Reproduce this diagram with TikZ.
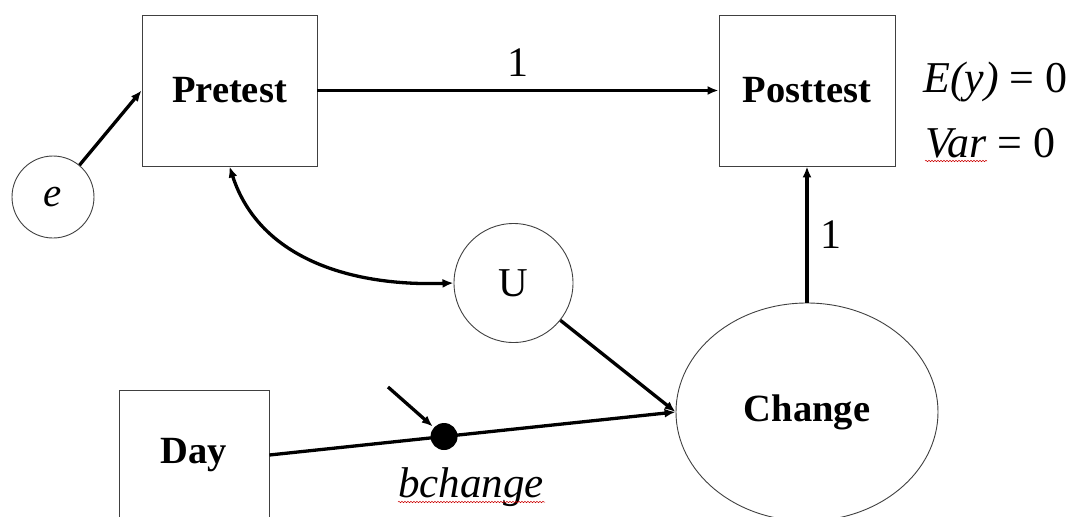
\documentclass[tikz,border=0pt]{standalone}
\usepackage{fontspec}
\setmainfont{Liberation Serif}
\usetikzlibrary{arrows.meta,shapes.geometric,decorations.pathmorphing}
\begin{document}
\begin{tikzpicture}[x=1pt,y=-1pt,
  boxnode/.style={draw=black!75,line width=0.9pt,rectangle,inner sep=0pt,font=\fontsize{38.5}{40}\selectfont\bfseries},
  circnode/.style={draw=black!75,line width=0.9pt,circle,inner sep=0pt},
  ellnode/.style={draw=black!75,line width=0.9pt,ellipse,inner sep=0pt,font=\fontsize{38.5}{40}\selectfont\bfseries},
  conn/.style={line width=3.3pt,-{Latex[length=11pt,width=9pt]}},
  biconn/.style={line width=3.3pt,{Latex[length=11pt,width=9pt]}-{Latex[length=11pt,width=9pt]}},
  lbl/.style={font=\fontsize{42}{44}\selectfont,inner sep=0pt},
  spell/.style={draw=red!80!black,line width=0.5pt,decorate,decoration={snake,amplitude=0.7pt,segment length=3pt}}
]
\useasboundingbox (0,0) rectangle (1072,517);
\node[boxnode,minimum width=175pt,minimum height=151pt] (pre) at (229.5,90.5) {Pretest};
\node[boxnode,minimum width=176pt,minimum height=151pt] (post) at (807,90.5) {Posttest};
\node[boxnode,minimum width=150pt,minimum height=130pt] (day) at (194,455) {Day};
\node[circnode,minimum size=82pt,font=\fontsize{41}{43}\selectfont\itshape] (e) at (53,197) {e};
\node[circnode,minimum size=119pt,font=\fontsize{41}{43}\selectfont] (u) at (513.5,283) {U};
\node[ellnode,minimum width=262pt,minimum height=218pt] (chg) at (807,412) {Change};

\draw[conn] (e) -- (pre.west);
\draw[conn] (pre.east) -- (post.west) node[lbl,midway,above=12pt] (one1) {1};
\draw[conn] (chg.north) -- (post.south) node[lbl,midway,right=12pt] (one2) {1};
\draw[biconn] (pre.south) to[out=-72,in=182] (u.west);
\draw[conn] (u) -- (chg.west);
\draw[conn] (day.east) -- (chg.west) node[pos=0.43,circle,fill=black,minimum size=27pt,inner sep=0pt] (dot) {};
\coordinate (dsrc) at (388,387);
\draw[conn] (dsrc) -- (dot);

\node[lbl,anchor=base west,font=\fontsize{43}{45}\selectfont\itshape] (bch) at (398,497) {bchange};
\node[lbl,anchor=base west,font=\fontsize{44}{46}\selectfont] (ey) at (923,92) {\textit{E(y)} = 0};
\node[lbl,anchor=base west,font=\fontsize{44}{46}\selectfont] (var) at (925,157) {\textit{Var} = 0};
\draw[spell] (bch.base west) ++(0,5) -- ++(147,0);
\draw[spell] (var.base west) ++(0,4) -- ++(62,0);
\end{tikzpicture}
\end{document}
